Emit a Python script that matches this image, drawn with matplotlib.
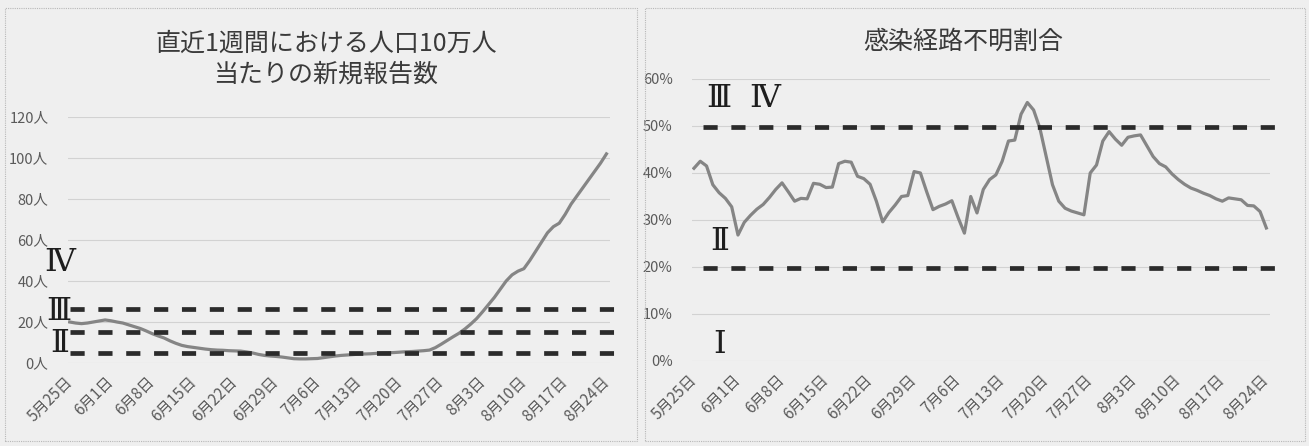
import numpy as np
import matplotlib
matplotlib.use("Agg")
import matplotlib.pyplot as plt
from matplotlib.patches import Rectangle
from matplotlib.transforms import blended_transform_factory

plt.rcParams['font.family'] = ['Noto Sans CJK JP', 'DejaVu Sans']

# weekly tick labels, 5/25 .. 8/24 (daily series, 92 days)
week_labels = ["5月25日", "6月1日", "6月8日", "6月15日", "6月22日", "6月29日",
               "7月6日", "7月13日", "7月20日", "7月27日", "8月3日", "8月10日",
               "8月17日", "8月24日"]

# new cases per 100k over the last 7 days
new_cases = [20.0, 19.5, 19.2, 19.5, 20.0, 20.5, 21.0,
             20.6, 20.0, 19.5, 18.6, 17.7, 16.8, 15.6,
             14.3, 13.2, 12.2, 10.8, 9.6, 8.6, 8.0,
             7.6, 7.2, 6.8, 6.5, 6.3, 6.2, 6.0,
             5.9, 5.8, 5.4, 4.9, 4.2, 3.7, 3.4,
             3.2, 2.9, 2.5, 2.1, 2.0, 2.0, 2.1,
             2.2, 2.6, 3.0, 3.4, 3.7, 3.9, 4.1,
             4.3, 4.4, 4.5, 4.7, 4.9, 5.0, 5.1,
             5.3, 5.5, 5.6, 5.8, 6.0, 6.3, 7.5,
             9.2, 11.0, 12.8, 14.5, 16.6, 19.0, 21.7,
             25.0, 28.5, 32.0, 36.0, 40.0, 43.0, 44.8,
             46.0, 50.0, 54.5, 59.0, 63.5, 66.5, 68.2,
             72.5, 77.5, 81.5, 85.5, 89.5, 93.5, 97.5,
             102.0]

# share of cases with unknown infection route (%)
unknown_route = [41.0, 42.5, 41.5, 37.5, 35.8, 34.6, 32.8,
                 26.8, 29.5, 31.0, 32.3, 33.3, 34.8, 36.5,
                 37.9, 36.0, 34.0, 34.6, 34.5, 37.8, 37.6,
                 36.9, 37.0, 42.0, 42.5, 42.3, 39.3, 38.8,
                 37.6, 34.0, 29.6, 31.6, 33.2, 35.0, 35.2,
                 40.3, 40.0, 36.0, 32.2, 32.9, 33.4, 34.1,
                 30.5, 27.2, 35.0, 31.5, 36.5, 38.6, 39.6,
                 42.5, 46.8, 47.0, 52.5, 55.0, 53.4, 49.5,
                 43.5, 37.5, 34.0, 32.5, 31.9, 31.5, 31.1,
                 40.0, 41.7, 46.8, 48.8, 47.2, 45.9, 47.6,
                 47.9, 48.1, 45.8, 43.5, 42.0, 41.3, 39.8,
                 38.6, 37.6, 36.8, 36.3, 35.7, 35.2, 34.5,
                 34.0, 34.7, 34.5, 34.3, 33.1, 33.0, 31.8,
                 28.3]

# stage thresholds (dashed lines) and stage markers
left_levels = [4.7, 15.0, 26.5]
right_levels = [19.8, 49.7]
left_marks = [("Ⅱ", 9.3), ("Ⅲ", 25.0), ("Ⅳ", 49.0)]
right_marks = [("Ⅰ", 3.5, 0.048), ("Ⅱ", 25.4, 0.048),
               ("Ⅲ", 55.9, 0.047), ("Ⅳ", 55.9, 0.125)]

bg = '#efefef'
line_c = '#858585'
dash_c = '#2b2b2b'
text_c = '#5a5a5a'
serif = ['DejaVu Serif', 'Noto Sans CJK JP']

fig = plt.figure(figsize=(13.09, 4.46), dpi=100)
fig.patch.set_facecolor(bg)

# panel frames
for x0, w in [(0.0038, 0.4828), (0.4927, 0.5042)]:
    fig.add_artist(Rectangle((x0, 0.0112), w, 0.971, transform=fig.transFigure,
                             fill=False, edgecolor='#b8b8b8', lw=0.8, ls=(0, (1, 1))))

ax1 = fig.add_axes([0.0519, 0.1861, 0.4141, 0.5516])
ax2 = fig.add_axes([0.5287, 0.1906, 0.4416, 0.6323])

days = np.arange(len(new_cases))
tick_pos = np.arange(0, len(new_cases), 7)


def style(ax, yticks, ylabels):
    ax.set_facecolor(bg)
    for s in ax.spines.values():
        s.set_visible(False)
    ax.set_xlim(-0.3, 91.6)
    ax.set_yticks(yticks)
    ax.set_yticklabels(ylabels, color=text_c, fontsize=10.5)
    ax.set_ylim(yticks[0], yticks[-1])
    ax.yaxis.grid(True, color='#d2d2d2', lw=0.8)
    ax.set_axisbelow(True)
    ax.tick_params(axis='y', length=0, pad=14)
    ax.set_xticks(tick_pos)
    ax.set_xticklabels(week_labels, rotation=45, ha='right', va='center',
                       rotation_mode='anchor', color=text_c, fontsize=11)
    ax.tick_params(axis='x', length=0, pad=12)


# left: new cases per 100k
style(ax1, [0, 20, 40, 60, 80, 100, 120], [f"{v}人" for v in range(0, 121, 20)])
ax1.plot(days, new_cases, color=line_c, lw=2.3, zorder=3)
tr1 = blended_transform_factory(ax1.transAxes, ax1.transData)
for lv in left_levels:
    ax1.plot([0.004, 1.028], [lv, lv], transform=tr1, color=dash_c, lw=3.4,
             ls=(0, (3.0, 2.9)), clip_on=False, zorder=4)
for s, y in left_marks:
    ax1.text(-0.016, y, s, transform=tr1, ha='center', va='center',
             fontsize=23, family=serif, color='#1e1e1e', zorder=5)
fig.text(0.249, 0.903, "直近1週間における人口10万人", ha='center', va='center',
         fontsize=18, color='#3a3a3a')
fig.text(0.249, 0.832, "当たりの新規報告数", ha='center', va='center',
         fontsize=18, color='#3a3a3a')

# right: unknown infection route share
style(ax2, [0, 10, 20, 30, 40, 50, 60], [f"{v}%" for v in range(0, 61, 10)])
ax2.plot(days, unknown_route, color=line_c, lw=2.3, zorder=3)
tr2 = blended_transform_factory(ax2.transAxes, ax2.transData)
for lv in right_levels:
    ax2.plot([0.019, 1.026], [lv, lv], transform=tr2, color=dash_c, lw=3.4,
             ls=(0, (3.0, 2.9)), clip_on=False, zorder=4)
for s, y, x in right_marks:
    ax2.text(x, y, s, transform=tr2, ha='center', va='center',
             fontsize=23, family=serif, color='#1e1e1e', zorder=5)
fig.text(0.7357, 0.906, "感染経路不明割合", ha='center', va='center',
         fontsize=18, color='#3a3a3a')

fig.savefig("out.png", dpi=100, facecolor=bg)
